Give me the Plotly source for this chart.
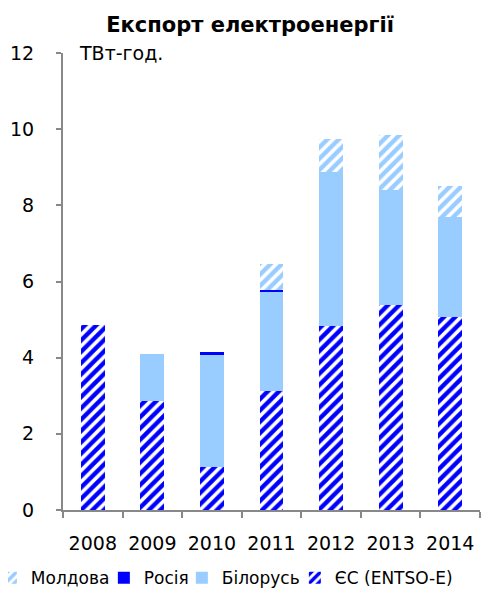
import plotly.graph_objects as go

# експорт електроенергії, ТВт-год.
years = ['2008', '2009', '2010', '2011', '2012', '2013', '2014']
eu = [4.86, 2.87, 1.14, 3.13, 4.84, 5.38, 5.06]
belarus = [0, 1.22, 2.94, 2.60, 4.04, 3.02, 2.64]
russia = [0, 0, 0.07, 0.05, 0, 0, 0]
moldova = [0, 0, 0, 0.68, 0.85, 1.45, 0.81]

BLUE = '#0000FF'
LIGHT = '#99CCFF'

def stripes(col):
    return dict(shape='/', fgcolor=col, bgcolor='white', fgopacity=1,
                size=8, solidity=0.55, fillmode='replace')

fig = go.Figure()
fig.add_trace(go.Bar(x=years, y=eu, name='ЄС (ENTSO-E)', legendwidth=126,
                     marker=dict(color='white', line_width=0, pattern=stripes(BLUE))))
fig.add_trace(go.Bar(x=years, y=belarus, name='Білорусь', legendwidth=68,
                     marker=dict(color=LIGHT, line_width=0)))
fig.add_trace(go.Bar(x=years, y=russia, name='Росія', legendwidth=33,
                     marker=dict(color=BLUE, line_width=0)))
fig.add_trace(go.Bar(x=years, y=moldova, name='Молдова', legendwidth=68,
                     marker=dict(color='white', line_width=0, pattern=stripes(LIGHT))))

# сторінка має відступ 8px, тому фігура трохи менша за вікно
fig.update_layout(
    width=492, height=585,
    barmode='stack', bargap=0.6,
    plot_bgcolor='white', paper_bgcolor='white',
    font=dict(family='DejaVu Sans', size=19, color='black'),
    margin=dict(l=55, r=20, t=45, b=83, autoexpand=False),
    title=dict(text='<b>Експорт електроенергії</b>', x=0.492, xanchor='center',
               y=0.971, yanchor='middle', font=dict(size=21)),
    showlegend=True,
    legend=dict(orientation='h', xref='paper', yref='paper',
                x=-0.173, xanchor='left', y=-0.149, yanchor='middle',
                traceorder='reversed', font=dict(size=17),
                itemwidth=30, tracegroupgap=0, bgcolor='rgba(0,0,0,0)'),
    annotations=[dict(text='ТВт-год.', xref='paper', yref='paper', x=0.034, y=1.0,
                      xanchor='left', yanchor='middle', showarrow=False,
                      font=dict(size=19))],
)
fig.update_yaxes(range=[0, 12], dtick=2, showgrid=False, zeroline=False, automargin=False,
                 showline=True, linecolor='#888', linewidth=2, ticklabelstandoff=18,
                 ticks='outside', ticklen=5, tickcolor='#888', tickwidth=2)
fig.update_xaxes(showgrid=False, showline=True, linecolor='#888', linewidth=2, automargin=False,
                 ticks='outside', ticklen=6, tickcolor='#888', tickwidth=2,
                 tickson='boundaries', tickangle=0, ticklabelstandoff=15)

fig.write_html("out.html")
